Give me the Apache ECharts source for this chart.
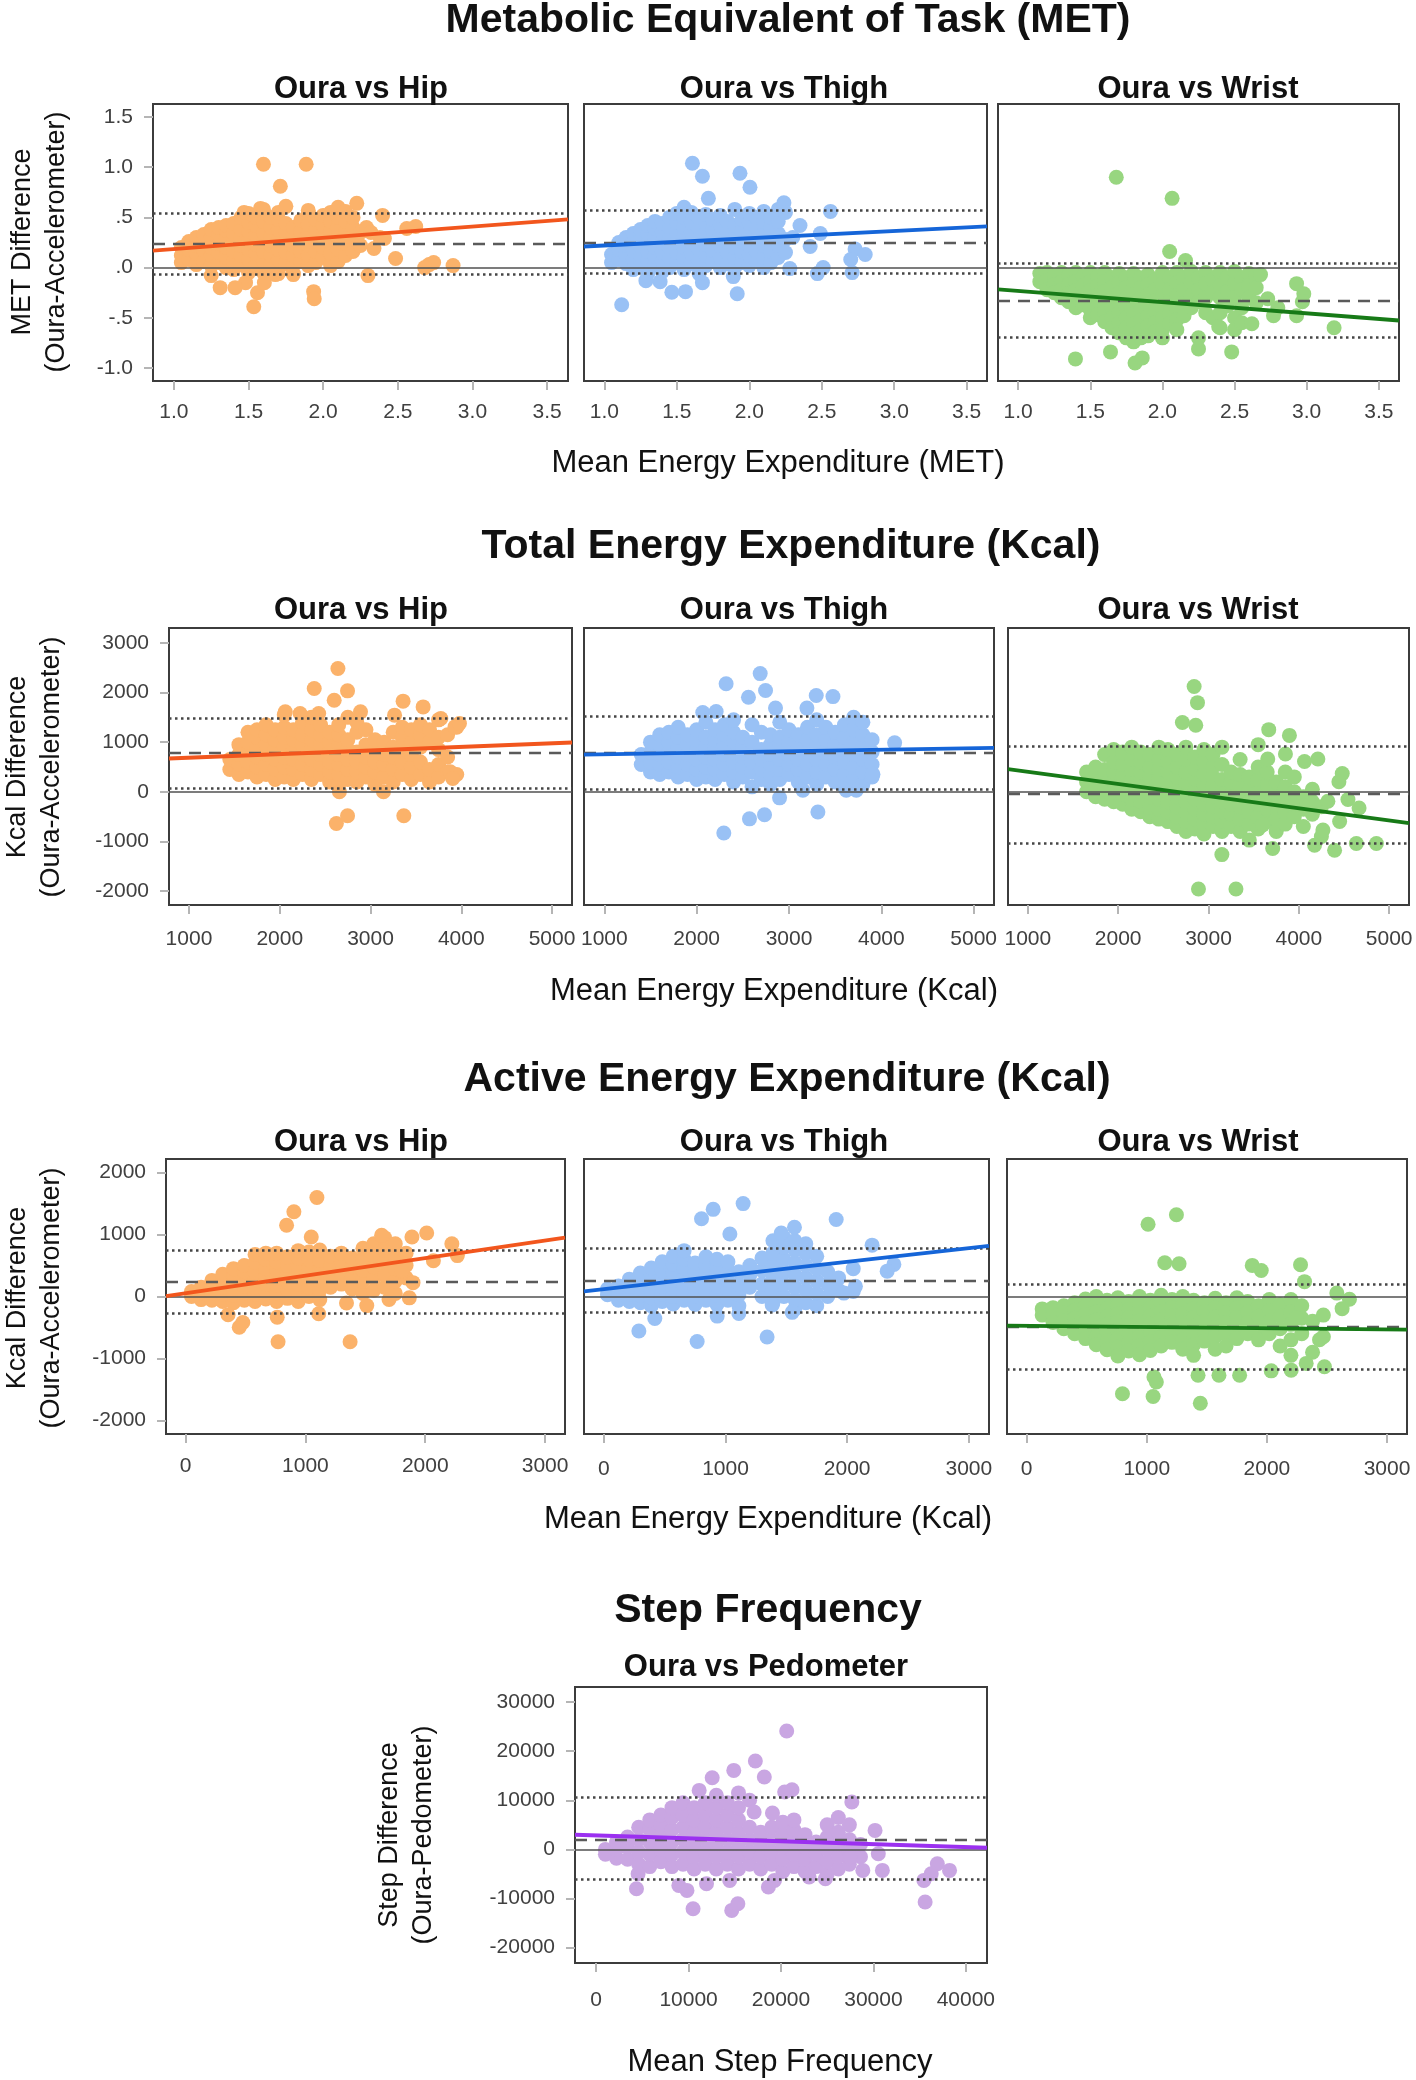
<!DOCTYPE html>
<html>
<head>
<meta charset="utf-8">
<script src="https://cdn.jsdelivr.net/npm/echarts@6/dist/echarts.min.js"></script>
<style>
html,body{margin:0;padding:0;background:#fff;}
#chart{width:1416px;height:2080px;}
</style>
</head>
<body>
<div id="chart"></div>
<script>
// ---------------- DATA ----------------
// Point clouds: each row = [x, y1, y2, ...] (column of points at mean value x)
const metHipCols = [
 [1.05,0.05,0.12,0.2],[1.1,0.08,0.18,0.26],[1.15,0.03,0.14,0.22,0.3],[1.2,0.06,0.17,0.25,0.33],
 [1.25,-0.08,0.02,0.12,0.2,0.3,0.38],[1.3,0.05,0.15,0.24,0.33,0.4],[1.35,0.0,0.1,0.2,0.28,0.37,0.42],
 [1.4,-0.02,0.06,0.16,0.25,0.34,0.44],[1.45,0.03,0.12,0.22,0.3,0.38,0.5],[1.5,-0.05,0.08,0.18,0.27,0.36,0.45,0.54],
 [1.55,0.02,0.14,0.23,0.32,0.42,0.5],[1.6,-0.05,0.06,0.16,0.26,0.35,0.46,0.58],[1.65,0.02,0.12,0.22,0.3,0.4,0.5],
 [1.7,-0.06,0.08,0.18,0.28,0.38,0.48,0.55],[1.75,0.04,0.15,0.25,0.35,0.44],[1.8,-0.06,0.02,0.12,0.22,0.32,0.4],
 [1.85,0.06,0.16,0.27,0.36,0.47],[1.9,0.02,0.12,0.22,0.33,0.43,0.55],[1.95,0.05,0.16,0.26,0.38,0.48],
 [2.0,0.1,0.2,0.3,0.42,0.52],[2.05,0.02,0.14,0.25,0.36,0.46,0.55],[2.1,0.06,0.18,0.3,0.4,0.5,0.6],
 [2.15,0.12,0.24,0.35,0.46,0.56],[2.2,0.16,0.28,0.4,0.5],[2.25,0.22,0.35]
];
const metHipOut = [[1.60,1.03],[1.886,1.03],[1.713,0.81],[2.225,0.64],[2.398,0.52],[2.62,0.41],[2.56,0.39],[2.29,0.40],[2.34,0.19],[2.485,0.09],[2.41,0.29],[2.71,0.03],[2.74,0.05],[2.87,0.02],[2.68,0.0],[2.30,-0.08],[1.936,-0.24],[1.94,-0.31],[1.535,-0.39],[1.56,-0.25],[1.606,-0.15],[1.48,-0.15],[1.41,-0.20],[1.31,-0.20],[1.68,-0.07],[1.80,-0.07],[1.75,0.61],[1.58,0.59],[1.47,0.55],[1.90,0.57],[2.32,0.35],[2.38,0.3]];
const metHipRef = [0.236, 0.54, -0.068];           // mean, upper LoA, lower LoA
const metHipFit = [[0.86, 0.169], [3.64, 0.48]];

const metThighCols = [
 [1.05,0.05,0.13],[1.1,0.08,0.18,0.25],[1.15,0.04,0.13,0.22,0.3],[1.2,-0.02,0.08,0.17,0.27,0.34],
 [1.25,0.03,0.12,0.21,0.3,0.38],[1.3,-0.06,0.07,0.16,0.25,0.34,0.42],[1.35,0.02,0.11,0.2,0.3,0.39,0.46],
 [1.4,-0.04,0.06,0.15,0.25,0.35,0.44],[1.45,0.0,0.1,0.2,0.3,0.4,0.5],[1.5,0.05,0.15,0.25,0.35,0.45,0.54],
 [1.55,-0.02,0.1,0.2,0.3,0.4,0.5,0.6],[1.6,0.04,0.14,0.25,0.35,0.45,0.55],[1.65,0.08,0.19,0.29,0.4,0.5],
 [1.7,0.02,0.12,0.23,0.34,0.44,0.53],[1.75,0.06,0.17,0.28,0.38,0.48],[1.8,0.0,0.1,0.22,0.32,0.42,0.52],
 [1.85,0.04,0.15,0.26,0.36,0.46],[1.9,0.0,0.1,0.2,0.3,0.42,0.58],[1.95,0.05,0.16,0.26,0.36,0.48],
 [2.0,0.02,0.12,0.22,0.32,0.44,0.54],[2.05,0.06,0.16,0.28,0.4,0.5],[2.1,0.0,0.1,0.22,0.34,0.46,0.56],
 [2.15,0.05,0.16,0.28,0.4,0.5],[2.2,0.1,0.22,0.34,0.46,0.58],[2.25,0.15,0.28]
];
const metThighOut = [[1.608,1.04],[1.677,0.91],[1.936,0.94],[2.005,0.80],[1.718,0.69],[2.239,0.645],[2.56,0.56],[2.35,0.42],[2.42,0.21],[2.49,0.34],[2.73,0.185],[2.80,0.13],[2.70,0.08],[2.71,-0.05],[2.47,-0.06],[2.51,0.0],[2.28,-0.01],[1.917,-0.26],[1.89,-0.09],[1.677,-0.15],[1.56,-0.24],[1.466,-0.245],[1.385,-0.14],[1.287,-0.13],[1.12,-0.37],[1.654,-0.06],[2.3,0.3],[2.25,0.55]];
const metThighRef = [0.252, 0.571, -0.057];
const metThighFit = [[0.86, 0.21], [3.64, 0.41]];

const metWristCols = [
 [1.15,-0.06,-0.14],[1.2,-0.05,-0.13,-0.22],[1.25,-0.08,-0.17,-0.25],[1.3,-0.05,-0.14,-0.22,-0.3],
 [1.35,-0.08,-0.17,-0.26,-0.34],[1.4,-0.05,-0.14,-0.23,-0.32,-0.4],[1.45,-0.09,-0.18,-0.28,-0.37],
 [1.5,-0.05,-0.14,-0.23,-0.32,-0.42,-0.5],[1.55,-0.09,-0.18,-0.28,-0.38,-0.47],[1.6,-0.05,-0.14,-0.24,-0.34,-0.44,-0.54],
 [1.65,-0.1,-0.2,-0.3,-0.4,-0.5,-0.6],[1.7,-0.06,-0.15,-0.25,-0.35,-0.45,-0.55,-0.65],[1.75,-0.1,-0.2,-0.3,-0.4,-0.5,-0.6,-0.7],
 [1.8,-0.06,-0.16,-0.26,-0.36,-0.46,-0.56,-0.66,-0.74],[1.85,-0.1,-0.2,-0.3,-0.42,-0.52,-0.62,-0.7],
 [1.9,-0.07,-0.17,-0.27,-0.37,-0.48,-0.58,-0.68],[1.95,-0.12,-0.22,-0.33,-0.44,-0.55,-0.64],
 [2.0,-0.05,-0.16,-0.28,-0.4,-0.5,-0.62,-0.7],[2.05,-0.1,-0.22,-0.34,-0.46,-0.56],[2.1,-0.05,-0.15,-0.28,-0.4,-0.52,-0.62],
 [2.15,-0.1,-0.22,-0.35,-0.48],[2.2,-0.04,-0.15,-0.28,-0.4],[2.25,-0.1,-0.22,-0.34,-0.7],[2.3,-0.05,-0.16,-0.3,-0.45],
 [2.35,-0.12,-0.25,-0.5],[2.4,-0.05,-0.18,-0.3,-0.45,-0.6],[2.45,-0.1,-0.24,-0.38],[2.5,-0.04,-0.16,-0.3,-0.5,-0.62],
 [2.55,-0.1,-0.22,-0.4,-0.55],[2.6,-0.06,-0.18,-0.3],[2.65,-0.08,-0.2,-0.35]
];
const metWristOut = [[1.68,0.90],[2.067,0.69],[2.05,0.16],[2.16,0.07],[2.93,-0.16],[2.98,-0.26],[2.97,-0.34],[2.93,-0.48],[2.77,-0.48],[3.19,-0.60],[1.397,-0.91],[1.64,-0.84],[1.81,-0.95],[1.86,-0.90],[2.25,-0.81],[2.48,-0.84],[2.73,-0.31],[2.68,-0.07],[2.62,-0.56],[2.39,-0.59],[2.8,-0.4]];
const metWristRef = [-0.326, 0.037, -0.695];
const metWristFit = [[0.86, -0.218], [3.64, -0.527]];

const totHipCols = [
 [1450,450,650],[1550,350,550,750,950],[1650,400,600,800,1000,1200],[1750,300,500,700,900,1100,1250],
 [1850,350,550,750,950,1150,1350],[1950,250,450,650,850,1050,1250],[2050,300,500,700,900,1100,1300,1550],
 [2150,250,450,650,850,1050,1250],[2250,350,550,750,950,1150,1400],[2350,250,450,650,850,1050,1250,1500],
 [2450,350,550,750,950,1150,1350],[2550,200,400,600,800,1000,1200],[2650,150,350,550,750,950,1150,1350],
 [2750,250,450,650,850,1050,1500],[2850,200,400,600,800,1200,1400],[2950,300,500,700,950,1250],
 [3050,150,400,600,850,1050],[3150,300,550,750,1000],[3250,200,450,700,900,1200],[3350,350,600,850,1100,1300],
 [3450,250,500,750,1000,1250],[3550,350,600,900,1150,1350],[3650,200,450,1000,1250],[3750,300,550,850,1100,1450],
 [3850,400,700,1150],[3950,350,1300]
];
const totHipOut = [[2641,2483],[2380,2081],[2747,2034],[2600,1846],[3359,1826],[3580,1711],[3931,1309],[3980,1376],[3878,403],[3906,268],[2624,-638],[2747,-483],[3367,-483],[2657,0],[3143,0],[2061,1611],[2224,1577],[2429,1577],[2890,1611],[3265,1544],[3775,1476]];
const totHipRef = [785, 1490, 67];
const totHipFit = [[780, 671], [5220, 993]];

const totThighCols = [
 [1400,550,750],[1500,400,600,800,1000],[1600,350,550,750,950,1150],[1700,400,600,800,1000,1200],
 [1800,300,500,700,900,1100,1300],[1900,350,550,750,950,1150],[2000,250,450,650,850,1050,1250],
 [2100,300,500,700,900,1100,1400],[2200,250,450,650,850,1050,1250],[2300,350,550,750,950,1150,1350],
 [2400,200,400,600,800,1000,1200,1450],[2500,300,500,700,900,1100],[2600,100,400,600,800,1000,1350],
 [2700,250,450,650,850,1200],[2800,150,350,550,750,950,1150],[2900,250,450,650,900,1100,1400],
 [3000,350,550,750,1000,1250],[3100,200,450,650,900,1150],[3200,300,550,800,1050,1300],
 [3300,150,400,650,900,1150,1450],[3400,300,550,800,1050,1300],[3500,200,450,700,950,1200],
 [3600,100,350,600,850,1100,1350],[3700,250,500,750,1000,1250,1500],[3800,150,400,650,900,1150,1400],
 [3900,300,550,800,1050]
];
const totThighOut = [[2688,2381],[2319,2177],[2746,2041],[2561,1905],[3295,1939],[3476,1918],[2854,1687],[3194,1687],[2066,1599],[2211,1619],[4144,986],[3909,354],[2294,-830],[2572,-544],[2735,-463],[3313,-408],[2898,-122],[3150,34],[3620,34],[3729,34]];
const totThighRef = [796, 1530, 54];
const totThighFit = [[780, 748], [5220, 884]];

const totWristCols = [
 [1650,0,200,400],[1750,-100,100,300,500],[1850,-150,50,250,450,750],[1950,-200,0,200,400,600,850],
 [2050,-250,-50,150,350,550,800],[2150,-350,-150,50,250,450,650,900],[2250,-400,-200,0,200,400,600,800],
 [2350,-500,-300,-100,100,300,500,750],[2450,-550,-350,-150,50,250,450,650,900],[2550,-600,-400,-200,0,200,400,600,850],
 [2650,-700,-500,-300,-100,100,300,500,750],[2750,-800,-600,-400,-200,0,200,400,650,900],
 [2850,-750,-550,-350,-150,50,250,450,700],[2950,-850,-650,-450,-250,-50,150,350,600,850],
 [3050,-700,-500,-300,-100,100,300,500,750],[3150,-800,-600,-400,-200,0,250,550,900],
 [3250,-700,-450,-250,-50,200,400],[3350,-800,-550,-300,-100,150,350,650],[3450,-650,-400,-200,50,300],
 [3550,-750,-500,-250,0,250,500,950],[3650,-600,-350,-100,150,400],[3750,-800,-550,-300,-50,200],
 [3850,-650,-400,-150,100,400],[3950,-500,-250,0,300],[4050,-700,-350,-100],[4150,-450,-200,50],[4250,-900,-300]
];
const totWristOut = [[2841,2122],[2878,1796],[2711,1395],[2859,1340],[3667,1252],[3896,1136],[3852,762],[3656,660],[4063,612],[4211,660],[4481,367],[4444,204],[4544,-156],[4667,-327],[4859,-1041],[4637,-1041],[4396,-1177],[4174,-1075],[4267,-769],[4452,-599],[2889,-1959],[3304,-1959],[3148,-1265],[3452,-973],[3711,-1143],[3600,-667],[4119,-259],[4322,-190]];
const totWristRef = [-34, 918, -1027];
const totWristFit = [[780, 456], [5220, -633]];

const actHipCols = [
 [50,0,80],[130,-50,60,150],[220,-60,50,160,260],[310,-80,40,150,260,360],[400,-100,20,130,240,350,450],
 [490,-60,60,170,280,400,500],[580,-80,40,150,270,390,550,680],[670,-40,80,200,320,450,600,700],
 [760,-80,60,180,300,430,560,700],[850,-30,100,230,360,500,640],[940,-80,60,200,340,480,620,740],
 [1030,0,150,300,450,600,720],[1120,-50,100,260,420,580,750],[1210,150,320,480,650],[1300,200,380,550,700],
 [1390,120,300,480,620],[1480,50,250,420,600,780],[1570,100,300,480,660,850],[1660,150,350,550,750,950],
 [1750,50,250,450,650,850],[1840,300,500,700]
];
const actHipOut = [[1096,1598],[904,1369],[843,1151],[1049,960],[1889,960],[2012,1026],[1636,987],[2222,851],[2268,660],[2068,578],[1806,415],[1898,224],[1867,-22],[1698,-49],[1512,-147],[1343,-104],[1373,-731],[772,-731],[765,-333],[1111,-278],[448,-496],[478,-420],[355,-295]];
const actHipRef = [235, 753, -278];
const actHipFit = [[-163, 5], [3166, 950]];

const actThighCols = [
 [30,30,120],[120,-60,60,170],[210,-80,40,160,280],[300,-100,20,140,260,380],[390,-150,-20,100,220,340,460],
 [480,-80,40,160,290,420,560],[570,-120,0,130,260,390,520,650],[660,-60,70,200,330,460,600,740],
 [750,-130,10,140,270,400,540],[840,-60,80,220,360,500,640],[930,-130,20,170,320,470,600],
 [1020,-60,100,260,420,560],[1110,-150,30,200,400],[1200,150,350,500],[1300,0,200,420,620],
 [1390,-100,100,300,500,700,900],[1480,0,200,400,600,800,950],[1570,-200,-50,150,350,550,750,900],
 [1660,-100,100,300,500,700,850],[1750,-150,50,250,450,650],[1840,0,200,400],[1930,100,300],[2050,80,450]
];
const actThighOut = [[1145,1500],[899,1407],[803,1255],[1910,1244],[1036,1009],[1458,1026],[1567,1118],[2205,829],[2384,518],[2329,409],[2068,164],[1973,55],[767,-726],[1342,-655],[288,-556],[419,-355],[932,-316],[1110,-273],[1384,-136],[1548,-256]];
const actThighRef = [256, 780, -256];
const actThighFit = [[-163, 82], [3166, 818]];

const actWristCols = [
 [130,-200,-300],[220,-180,-300,-420],[310,-150,-270,-400,-520],[400,-100,-220,-350,-480,-600],
 [490,-40,-160,-290,-420,-550,-680],[580,0,-120,-250,-380,-510,-650,-780],[670,-60,-190,-320,-450,-580,-720,-860],
 [760,-20,-150,-280,-410,-540,-680,-820,-960],[850,-80,-210,-340,-470,-600,-740,-880],
 [940,0,-130,-260,-390,-520,-660,-800,-940],[1030,-60,-190,-320,-450,-590,-730,-870],
 [1120,20,-120,-250,-380,-520,-660,-800],[1210,-50,-180,-320,-460,-600,-740],[1300,0,-140,-280,-420,-560,-700,-850],
 [1390,-60,-200,-340,-480,-620,-780,-950],[1480,-100,-250,-400,-560,-720],[1570,-30,-180,-330,-500,-650,-850],
 [1660,-100,-260,-420,-600,-800],[1750,-20,-180,-340,-500,-680],[1840,-80,-250,-420,-600],[1930,-150,-320,-500,-700],
 [2020,-50,-230,-400,-600],[2110,-130,-320,-520,-800],[2200,-50,-250,-450,-700,-950],[2290,-150,-350,-600],
 [2380,-400,-900],[2470,-300,-650]
];
const actWristOut = [[1247,1320],[1011,1167],[1150,546],[1269,529],[1878,502],[1953,420],[2280,513],[2313,240],[2582,55],[2687,-44],[2626,-196],[798,-1571],[1053,-1615],[1446,-1724],[1080,-1380],[1060,-1300],[1427,-1271],[1601,-1271],[1773,-1271],[2036,-1200],[2202,-1189],[2479,-1135],[2327,-1080],[2438,-698],[2244,-344]];
const actWristRef = [-491, 191, -1173];
const actWristFit = [[-163, -469], [3166, -535]];

const stepCols = [
 [1000,0,-1000],[2200,-1800,0,1500],[3400,-2000,500,2500],[4600,-3000,-500,2000,4500],
 [5800,-3500,-1000,1500,4000,6000],[7000,-2500,0,2500,5000,7000],[8200,-3500,-1000,1500,4000,6500,8500],
 [9400,-3000,-500,2000,4500,7000,9500],[10600,-4000,-1500,1000,3500,6000,8500],[11800,-3000,-500,2000,4500,7000,9500],
 [13000,-4000,-1500,1000,3500,6000,8500,11000],[14200,-3000,-500,2000,4500,7000,9500],
 [15400,-4000,-1500,1000,3500,6000,8500,11500],[16600,-3000,-500,2000,4500,10000],[17800,-4000,-1500,1000,3500],
 [19000,-3000,-500,2000,4500],[20200,-4500,-2000,500,3000,5500],[21400,-3500,-1000,1500,4000,6000],
 [22600,-4500,-2000,500,3000],[23800,-3500,-1000,1500],[25000,-5000,-2500,0,2500,5000],
 [26200,-4000,-1500,1000,3500,6500],[27400,-3000,-500,2000,5000],[28600,-1500,1000]
];
const stepOut = [[20617,24084],[17225,17979],[18194,14722],[14890,16079],[12555,14586],[11145,12008],[21189,12144],[20396,11669],[17093,7598],[19075,7395],[27665,9634],[30176,3867],[30529,-882],[30969,-4274],[35463,-6309],[35595,-10719],[36916,-2917],[38238,-4274],[36255,-4953],[4361,-8005],[4537,-4953],[8943,-7327],[9824,-8345],[10485,-12076],[11938,-6988],[14670,-12415],[15330,-11058],[14449,-6309],[18634,-7666],[19295,-6309],[24802,-5970],[23040,-5631],[28855,-4274],[27445,-1560]];
const stepRef = [2035, 10516, -6174];
const stepFit = [[-2290, 2985], [42290, 339]];

// Tick values / labels
const metXTicks = [1.0, 1.5, 2.0, 2.5, 3.0, 3.5];
const metYTicks = [-1.0, -0.5, 0, 0.5, 1.0, 1.5];
const metYLabels = ['-1.0', '-.5', '.0', '.5', '1.0', '1.5'];
const totXTicks = [1000, 2000, 3000, 4000, 5000];
const totYTicks = [-2000, -1000, 0, 1000, 2000, 3000];
const actXTicks = [0, 1000, 2000, 3000];
const actYTicks = [-2000, -1000, 0, 1000, 2000];
const stepXTicks = [0, 10000, 20000, 30000, 40000];
const stepYTicks = [-20000, -10000, 0, 10000, 20000, 30000];

// ---------------- BUILD ----------------
const FONT = '"Liberation Sans", Arial, Helvetica, sans-serif';
const C = {
  hip:   {pt: '#FBB26A', ln: '#F2561D'},
  thigh: {pt: '#99C1F5', ln: '#1565D8'},
  wrist: {pt: '#98D680', ln: '#177A17'},
  step:  {pt: '#C9A6E2', ln: '#9B30F0'}
};
function expand(cols, extra) {
  const out = [];
  cols.forEach(c => { for (let i = 1; i < c.length; i++) out.push([c[0], c[i]]); });
  return out.concat(extra);
}
const fmtMetX = v => v.toFixed(1);
const fmtMetY = v => { const k = metYTicks.findIndex(t => Math.abs(t - v) < 1e-9); return k >= 0 ? metYLabels[k] : ''; };
const fmtInt = v => String(Math.round(v));

const metX = [0.86, 3.64], metY = [-1.13, 1.63];
const totX = [780, 5220], totY = [-2280, 3300];
const actX = [-163, 3166], actY = [-2220, 2220];
const stX = [-2290, 42290], stY = [-23120, 33050];

const panels = [
  {l:153, t:104, w:415, h:277, x:metX, y:metY, xt:metXTicks, yt:metYTicks, fx:fmtMetX, fy:fmtMetY, showY:true, pts:expand(metHipCols, metHipOut), ref:metHipRef, fit:metHipFit, c:C.hip, xm:21},
  {l:584, t:104, w:403, h:277, x:metX, y:metY, xt:metXTicks, yt:metYTicks, fx:fmtMetX, fy:fmtMetY, showY:false, pts:expand(metThighCols, metThighOut), ref:metThighRef, fit:metThighFit, c:C.thigh, xm:21},
  {l:998, t:104, w:401, h:277, x:metX, y:metY, xt:metXTicks, yt:metYTicks, fx:fmtMetX, fy:fmtMetY, showY:false, pts:expand(metWristCols, metWristOut), ref:metWristRef, fit:metWristFit, c:C.wrist, xm:21},

  {l:169, t:628, w:403, h:277, x:totX, y:totY, xt:totXTicks, yt:totYTicks, fx:fmtInt, fy:fmtInt, showY:true, pts:expand(totHipCols, totHipOut), ref:totHipRef, fit:totHipFit, c:C.hip, xm:24},
  {l:584, t:628, w:410, h:277, x:totX, y:totY, xt:totXTicks, yt:totYTicks, fx:fmtInt, fy:fmtInt, showY:false, pts:expand(totThighCols, totThighOut), ref:totThighRef, fit:totThighFit, c:C.thigh, xm:24},
  {l:1008, t:628, w:401, h:277, x:totX, y:totY, xt:totXTicks, yt:totYTicks, fx:fmtInt, fy:fmtInt, showY:false, pts:expand(totWristCols, totWristOut), ref:totWristRef, fit:totWristFit, c:C.wrist, xm:24},

  {l:166, t:1159, w:399, h:275, x:actX, y:actY, xt:actXTicks, yt:actYTicks, fx:fmtInt, fy:fmtInt, showY:true, pts:expand(actHipCols, actHipOut), ref:actHipRef, fit:actHipFit, c:C.hip, xm:22},
  {l:584, t:1159, w:405, h:275, x:actX, y:actY, xt:actXTicks, yt:actYTicks, fx:fmtInt, fy:fmtInt, showY:false, pts:expand(actThighCols, actThighOut), ref:actThighRef, fit:actThighFit, c:C.thigh, xm:25},
  {l:1007, t:1159, w:400, h:275, x:actX, y:actY, xt:actXTicks, yt:actYTicks, fx:fmtInt, fy:fmtInt, showY:false, pts:expand(actWristCols, actWristOut), ref:actWristRef, fit:actWristFit, c:C.wrist, xm:25},

  {l:575, t:1687, w:412, h:276, x:stX, y:stY, xt:stepXTicks, yt:stepYTicks, fx:fmtInt, fy:fmtInt, showY:true, pts:expand(stepCols, stepOut), ref:stepRef, fit:stepFit, c:C.step, xm:27}
];

const grid = [], xAxis = [], yAxis = [], series = [];
const labelStyle = {fontSize: 21, color: '#404040', fontFamily: FONT};
const tickStyle = {color: '#b5b5b5', width: 2};
panels.forEach((p, i) => {
  grid.push({left: p.l, top: p.t, width: p.w, height: p.h, show: true, borderColor: '#3c3c3c', borderWidth: 2, backgroundColor: '#fff'});
  xAxis.push({type: 'value', gridIndex: i, min: p.x[0], max: p.x[1], position: 'bottom', splitLine: {show: false},
    axisLine: {show: false, onZero: false},
    axisTick: {show: true, length: 9, customValues: p.xt, lineStyle: tickStyle},
    axisLabel: Object.assign({customValues: p.xt, margin: p.xm, formatter: p.fx, hideOverlap: false}, labelStyle)});
  yAxis.push({type: 'value', gridIndex: i, min: p.y[0], max: p.y[1], position: 'left', splitLine: {show: false},
    axisLine: {show: false, onZero: false},
    axisTick: {show: p.showY, length: 9, customValues: p.yt, lineStyle: tickStyle},
    axisLabel: Object.assign({show: p.showY, customValues: p.yt, margin: 20, formatter: p.fy, hideOverlap: false}, labelStyle)});
  series.push({type: 'scatter', xAxisIndex: i, yAxisIndex: i, data: p.pts, symbolSize: 15, silent: true, z: 2,
    itemStyle: {color: p.c.pt, opacity: 1}});
  series.push({type: 'line', xAxisIndex: i, yAxisIndex: i, data: p.fit, showSymbol: false, silent: true, z: 6,
    lineStyle: {color: p.c.ln, width: 3.8},
    markLine: {silent: true, symbol: 'none', animation: false, label: {show: false}, emphasis: {disabled: true},
      data: [
        {yAxis: 0, lineStyle: {type: 'solid', color: '#505050', width: 1.6}},
        {yAxis: p.ref[0], lineStyle: {type: [12, 8], color: '#5a5a5a', width: 2.4}},
        {yAxis: p.ref[1], lineStyle: {type: [2.5, 3.5], color: '#454545', width: 2.5}},
        {yAxis: p.ref[2], lineStyle: {type: [2.5, 3.5], color: '#454545', width: 2.5}}
      ]}});
});

function txt(text, x, y, size, bold, rot) {
  return {type: 'text', x: x, y: y, rotation: rot || 0, silent: true, z: 100,
    style: {text: text, fill: '#111', font: (bold ? 'bold ' : '') + size + 'px ' + FONT,
      align: 'center', verticalAlign: 'middle', textAlign: 'center', textVerticalAlign: 'middle', lineHeight: Math.round(size * 1.25)}};
}
const R = Math.PI / 2;
const graphic = [
  txt('Metabolic Equivalent of Task (MET)', 788, 21, 41, true),
  txt('Total Energy Expenditure (Kcal)', 791, 547, 41, true),
  txt('Active Energy Expenditure (Kcal)', 787, 1080, 41, true),
  txt('Step Frequency', 768, 1611, 41, true),

  txt('Oura vs Hip', 361, 89, 31, true), txt('Oura vs Thigh', 784, 89, 31, true), txt('Oura vs Wrist', 1198, 89, 31, true),
  txt('Oura vs Hip', 361, 610, 31, true), txt('Oura vs Thigh', 784, 610, 31, true), txt('Oura vs Wrist', 1198, 610, 31, true),
  txt('Oura vs Hip', 361, 1142, 31, true), txt('Oura vs Thigh', 784, 1142, 31, true), txt('Oura vs Wrist', 1198, 1142, 31, true),
  txt('Oura vs Pedometer', 766, 1667, 31, true),

  txt('Mean Energy Expenditure (MET)', 778, 463, 31, false),
  txt('Mean Energy Expenditure (Kcal)', 774, 991, 31, false),
  txt('Mean Energy Expenditure (Kcal)', 768, 1519, 31, false),
  txt('Mean Step Frequency', 780, 2062, 31, false),

  txt('MET Difference\n(Oura-Accelerometer)', 40, 242, 27, false, R),
  txt('Kcal Difference\n(Oura-Accelerometer)', 35, 767, 27, false, R),
  txt('Kcal Difference\n(Oura-Accelerometer)', 35, 1298, 27, false, R),
  txt('Step Difference\n(Oura-Pedometer)', 407, 1835, 27, false, R)
];

const chart = echarts.init(document.getElementById('chart'), null, {renderer: 'canvas'});
chart.setOption({
  backgroundColor: '#fff',
  animation: false,
  grid: grid, xAxis: xAxis, yAxis: yAxis, series: series, graphic: graphic
});
</script>
</body>
</html>
